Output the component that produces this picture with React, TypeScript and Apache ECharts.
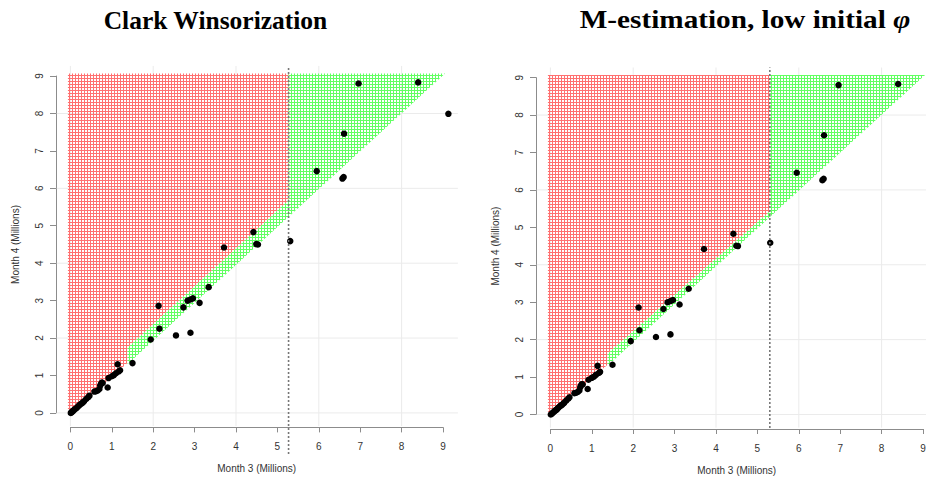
import { useEffect, useRef } from "react";
import * as echarts from "echarts";

// Month 3 (x) and Month 4 (y), in millions
const month3 = [
  0.01, 0.03, 0.05, 0.07, 0.1, 0.12, 0.15, 0.18, 0.21, 0.24, 0.27, 0.3, 0.33, 0.38, 0.43, 0.46,
  0.58, 0.62, 0.66, 0.7, 0.72, 0.74, 0.76, 0.78, 0.9, 0.92, 1.0, 1.05, 1.1, 1.14, 1.17, 1.2,
  1.5, 1.94, 2.13, 2.15, 2.55, 2.73, 2.83, 2.9, 2.96, 2.9, 3.12, 3.34, 3.71, 4.42, 4.49, 4.53,
  5.31, 5.95, 6.57, 6.6, 6.61, 6.96, 8.4, 9.13,
];
const month4 = [
  0.0, 0.02, 0.04, 0.06, 0.09, 0.11, 0.13, 0.17, 0.2, 0.23, 0.25, 0.28, 0.31, 0.37, 0.42, 0.46,
  0.57, 0.58, 0.6, 0.64, 0.73, 0.78, 0.81, 0.8, 0.68, 0.93, 0.98, 1.01, 1.06, 1.3, 1.11, 1.14,
  1.33, 1.96, 2.86, 2.25, 2.07, 2.82, 3.0, 3.03, 3.06, 2.14, 2.94, 3.36, 4.42, 4.83, 4.51, 4.5,
  4.59, 6.46, 6.26, 6.3, 7.46, 8.8, 8.83, 7.99,
];

const axisTicks = [0, 1, 2, 3, 4, 5, 6, 7, 8, 9];
const gridTicks = [0, 2, 4, 6, 8];
const titles = ["Clark Winsorization", "M-estimation, low initial {phi|φ}"];
const xAxisTitle = "Month 3 (Millions)";
const yAxisTitle = "Month 4 (Millions)";

// vertical cut-off (dotted line) per panel and its vertical span
const cutoffs = [5.27, 5.3];
const cutoffSpans = [
  [-1.1, 9.27],
  [-0.36, 9.27],
];

// shaded regions, in data coordinates
const redClark = [
  [-0.06, 0], [0, 0], [1.38, 1.33], [1.38, 1.74], [5.27, 5.68], [5.27, 9.07], [-0.06, 9.07],
];
const greenClark = [
  [1.38, 1.3], [9.05, 9.07], [5.27, 9.07], [5.27, 5.68], [1.38, 1.74],
];
const redM = [
  [-0.06, 0], [0, 0], [1.38, 1.33], [1.38, 1.62], [5.3, 5.43], [5.3, 9.07], [-0.06, 9.07],
];
const greenM = [
  [1.38, 1.3], [9.05, 9.07], [5.3, 9.07], [5.3, 5.43], [1.38, 1.62],
];
const redRegions = [redClark, redM];
const greenRegions = [greenClark, greenM];

// layout (pixels); the right panel is cut off by the picture's edge
const panels = [
  { x0: 70.4, y0: 412.9, titleX: 215.5, titleScale: 1.02, xMax: 9.6 },
  { x0: 550.4, y0: 414.5, titleX: 745, titleScale: 1.17, xMax: 9.06 },
];
const KX = 41.4;
const KY = 37.43;
const MAIN_X_MIN = -0.4;
const MAIN_Y = [-0.4, 9.4];
const GRID_X = [-0.33, 9.36];
const GRID_Y = [-0.35, 9.27];

function hatch(color: string) {
  const c = document.createElement("canvas");
  c.width = 3;
  c.height = 3;
  const ctx = c.getContext("2d")!;
  ctx.fillStyle = color;
  ctx.fillRect(0, 0, 3, 1);
  ctx.fillRect(0, 0, 1, 3);
  return { image: c.toDataURL(), repeat: "repeat", imageWidth: 3, imageHeight: 3 } as any;
}

export default function App() {
  const ref = useRef<HTMLDivElement>(null);
  useEffect(() => {
    if (!ref.current) return;
    const chart = echarts.init(ref.current, null, { renderer: "svg" });
    const redFill = hatch("#ff7070");
    const greenFill = hatch("#62ff62");

    const grids: any[] = [];
    const xAxes: any[] = [];
    const yAxes: any[] = [];
    const series: any[] = [];
    const labelStyle = { color: "#333", fontSize: 10, fontFamily: "Liberation Sans" };
    const axisColor = "#8c8c8c";
    const gridBase = { outerBoundsMode: "none", containLabel: false };

    panels.forEach((p, i) => {
      const g = i * 3;
      // main plotting grid
      grids.push({
        ...gridBase,
        left: p.x0 + MAIN_X_MIN * KX,
        top: p.y0 - MAIN_Y[1] * KY,
        width: (p.xMax - MAIN_X_MIN) * KX,
        height: (MAIN_Y[1] - MAIN_Y[0]) * KY,
      });
      xAxes.push({ gridIndex: g, type: "value", min: MAIN_X_MIN, max: p.xMax, show: false });
      yAxes.push({ gridIndex: g, type: "value", min: MAIN_Y[0], max: MAIN_Y[1], show: false });

      // x axis grid (axis spans 0..9)
      const axisLineY = p.y0 + 14.5;
      grids.push({
        ...gridBase,
        left: p.x0,
        width: 9 * KX,
        top: p.y0 - 9 * KY,
        height: axisLineY - (p.y0 - 9 * KY),
      });
      xAxes.push({
        gridIndex: g + 1,
        type: "value",
        min: 0,
        max: 9,
        interval: 1,
        axisLine: { show: true, onZero: false, lineStyle: { color: axisColor, width: 1 } },
        axisTick: { show: true, length: 5, lineStyle: { color: axisColor } },
        axisLabel: { ...labelStyle, margin: 14, formatter: (v: number) => (axisTicks.includes(v) ? String(v) : "") },
        splitLine: { show: false },
        name: xAxisTitle,
        nameLocation: "middle",
        nameGap: 36,
        nameTextStyle: labelStyle,
      });
      yAxes.push({ gridIndex: g + 1, type: "value", min: 0, max: 1, show: false });

      // y axis grid
      grids.push({
        ...gridBase,
        left: p.x0 - 14.4,
        width: 9 * KX,
        top: p.y0 - 9 * KY,
        height: 9 * KY,
      });
      xAxes.push({ gridIndex: g + 2, type: "value", min: 0, max: 9, show: false });
      yAxes.push({
        gridIndex: g + 2,
        type: "value",
        min: 0,
        max: 9,
        interval: 1,
        axisLine: { show: true, onZero: false, lineStyle: { color: axisColor, width: 1 } },
        axisTick: { show: true, length: 6, lineStyle: { color: axisColor } },
        axisLabel: { ...labelStyle, margin: 12, rotate: 90, formatter: (v: number) => (axisTicks.includes(v) ? String(v) : "") },
        splitLine: { show: false },
        name: yAxisTitle,
        nameLocation: "middle",
        nameGap: 36,
        nameRotate: 90,
        nameTextStyle: labelStyle,
      });

      // background grid lines
      series.push({
        type: "custom",
        xAxisIndex: g,
        yAxisIndex: g,
        silent: true,
        data: [0],
        renderItem: (_params: any, api: any) => {
          const children: any[] = [];
          gridTicks.forEach((v) => {
            const a = api.coord([GRID_X[0], v]);
            const b = api.coord([GRID_X[1], v]);
            children.push({ type: "line", shape: { x1: a[0], y1: a[1], x2: b[0], y2: b[1] }, style: { stroke: "#ebebeb", lineWidth: 1 } });
            const c = api.coord([v, GRID_Y[0]]);
            const d = api.coord([v, GRID_Y[1]]);
            children.push({ type: "line", shape: { x1: c[0], y1: c[1], x2: d[0], y2: d[1] }, style: { stroke: "#ebebeb", lineWidth: 1 } });
          });
          return { type: "group", children };
        },
      });

      // shaded regions
      [
        [redRegions[i], redFill],
        [greenRegions[i], greenFill],
      ].forEach(([region, fill]: any) => {
        series.push({
          type: "custom",
          xAxisIndex: g,
          yAxisIndex: g,
          silent: true,
          data: [0],
          renderItem: (_params: any, api: any) => ({
            type: "polygon",
            shape: { points: region.map((pt: number[]) => api.coord(pt)) },
            style: { fill, stroke: null },
          }),
        });
      });

      // cut-off dotted line
      series.push({
        type: "line",
        xAxisIndex: g,
        yAxisIndex: g,
        clip: false,
        symbol: "none",
        silent: true,
        data: [
          [cutoffs[i], cutoffSpans[i][0]],
          [cutoffs[i], cutoffSpans[i][1]],
        ],
        lineStyle: { color: "#777", width: 1.6, type: [2, 2] },
      });

      // points
      series.push({
        type: "scatter",
        xAxisIndex: g,
        yAxisIndex: g,
        clip: true,
        symbolSize: 6.5,
        itemStyle: { color: "#000", opacity: 1 },
        data: month3.map((x, k) => [x, month4[k]]),
      });
    });

    const titleFont = { fontFamily: "Liberation Serif", fontWeight: "bold", fontSize: 25, fill: "#000" };

    chart.setOption({
      animation: false,
      backgroundColor: "#fff",
      graphic: panels.map((p, i) => ({
        type: "text",
        x: p.titleX,
        y: 20,
        scaleX: p.titleScale,
        silent: true,
        style: {
          ...titleFont,
          text: titles[i],
          textAlign: "center",
          textVerticalAlign: "middle",
          rich: {
            phi: { ...titleFont, fontStyle: "italic" },
          },
        },
      })),
      grid: grids,
      xAxis: xAxes,
      yAxis: yAxes,
      series,
    });
    return () => chart.dispose();
  }, []);

  return (
    <div
      ref={ref}
      style={{ position: "fixed", left: 0, top: 0, width: 926, height: 484, background: "#fff" }}
    />
  );
}
